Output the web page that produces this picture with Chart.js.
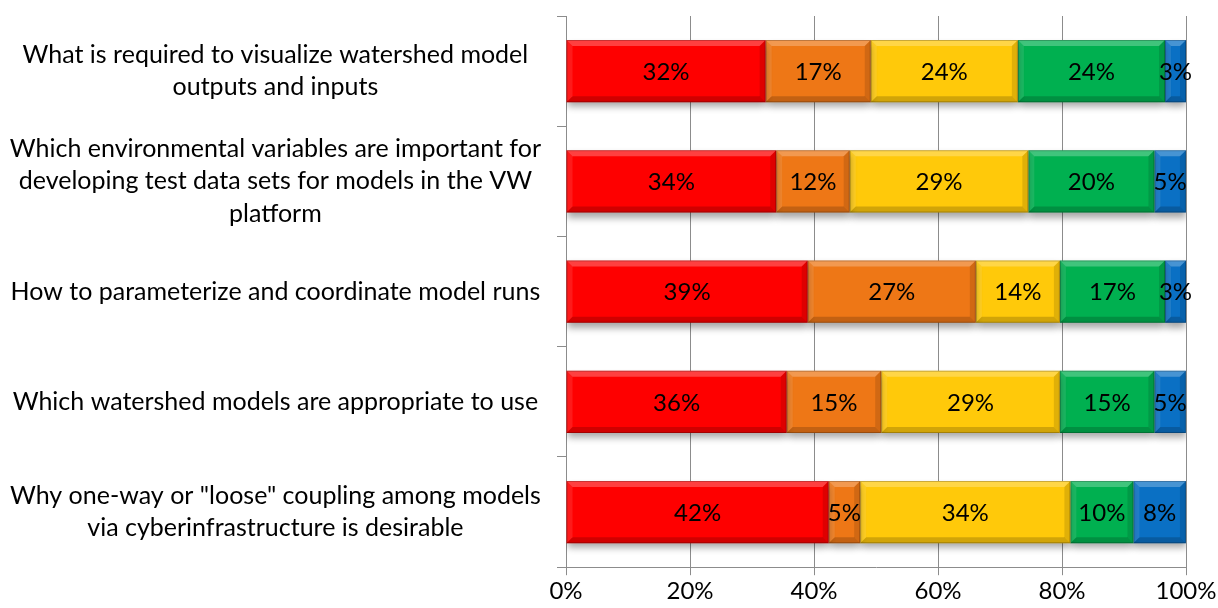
<!DOCTYPE html>
<html>
<head>
<meta charset="utf-8">
<script src="https://cdn.jsdelivr.net/npm/chart.js@4.4.1/dist/chart.umd.min.js"></script>
<style>
  html, body { margin: 0; padding: 0; background: #ffffff; }
  #wrap { width: 1218px; height: 608px; }
</style>
</head>
<body>
<div id="wrap"><canvas id="chart" width="1218" height="608"></canvas></div>
<script>
const categories = [
  ["What is required to visualize watershed model", "outputs and inputs"],
  ["Which environmental variables are important for", "developing test data sets for models in the VW", "platform"],
  ["How to parameterize and coordinate model runs"],
  ["Which watershed models are appropriate to use"],
  ["Why one-way or \"loose\" coupling among models", "via cyberinfrastructure is desirable"]
];

// percent of responses per answer level
const redValues    = [32.20, 33.90, 38.98, 35.59, 42.37];
const orangeValues = [16.95, 11.86, 27.12, 15.25, 5.08];
const yellowValues = [23.73, 28.81, 13.56, 28.81, 33.90];
const greenValues  = [23.73, 20.34, 16.95, 15.25, 10.17];
const blueValues   = [3.39, 5.08, 3.39, 5.08, 8.47];

const xTicks = [0, 20, 40, 60, 80, 100];

const seriesColors = ["#fe0000", "#ee7716", "#ffc90a", "#00b050", "#0a70c4"];
const FONT = "Lato, 'Open Sans', sans-serif";

const shadowPlugin = {
  id: "barShadow",
  beforeDatasetDraw(chart) {
    const ctx = chart.ctx;
    ctx.save();
    ctx.shadowColor = "rgba(0,0,0,0.35)";
    ctx.shadowBlur = 7;
    ctx.shadowOffsetY = 5;
  },
  afterDatasetDraw(chart) {
    chart.ctx.restore();
  }
};

const bevelPlugin = {
  id: "bevel",
  afterDatasetsDraw(chart) {
    const ctx = chart.ctx;
    const b = 6;
    chart.data.datasets.forEach((ds, i) => {
      const meta = chart.getDatasetMeta(i);
      meta.data.forEach((bar) => {
        const p = bar.getProps(["x", "y", "base", "height"], true);
        const left = Math.min(p.x, p.base);
        const right = Math.max(p.x, p.base);
        const top = p.y - p.height / 2;
        const bottom = p.y + p.height / 2;
        const w = right - left;
        const bb = Math.min(b, w / 2);
        ctx.save();
        // top
        ctx.fillStyle = "rgba(255,255,255,0.25)";
        ctx.beginPath();
        ctx.moveTo(left, top); ctx.lineTo(right, top);
        ctx.lineTo(right - bb, top + b); ctx.lineTo(left + bb, top + b);
        ctx.closePath(); ctx.fill();
        // left
        ctx.fillStyle = "rgba(255,255,255,0.10)";
        ctx.beginPath();
        ctx.moveTo(left, top); ctx.lineTo(left + bb, top + b);
        ctx.lineTo(left + bb, bottom - b); ctx.lineTo(left, bottom);
        ctx.closePath(); ctx.fill();
        // bottom
        ctx.fillStyle = "rgba(0,0,0,0.18)";
        ctx.beginPath();
        ctx.moveTo(left, bottom); ctx.lineTo(right, bottom);
        ctx.lineTo(right - bb, bottom - b); ctx.lineTo(left + bb, bottom - b);
        ctx.closePath(); ctx.fill();
        // right
        ctx.fillStyle = "rgba(0,0,0,0.12)";
        ctx.beginPath();
        ctx.moveTo(right, top); ctx.lineTo(right - bb, top + b);
        ctx.lineTo(right - bb, bottom - b); ctx.lineTo(right, bottom);
        ctx.closePath(); ctx.fill();
        ctx.strokeStyle = "rgba(0,0,0,0.22)";
        ctx.lineWidth = 1;
        ctx.strokeRect(left + 0.5, top + 0.5, w - 1, p.height - 1);
        ctx.restore();
      });
    });
  }
};

const labelPlugin = {
  id: "segmentLabels",
  afterDatasetsDraw(chart) {
    const ctx = chart.ctx;
    ctx.save();
    ctx.font = "24px " + FONT;
    ctx.fillStyle = "#000000";
    ctx.textAlign = "center";
    ctx.textBaseline = "middle";
    chart.data.datasets.forEach((ds, i) => {
      const meta = chart.getDatasetMeta(i);
      meta.data.forEach((bar, j) => {
        const p = bar.getProps(["x", "y", "base"], true);
        ctx.fillText(Math.round(ds.data[j]) + "%", (p.x + p.base) / 2, p.y + 1);
      });
    });
    ctx.restore();
  }
};

const seriesValues = [redValues, orangeValues, yellowValues, greenValues, blueValues];

new Chart(document.getElementById("chart"), {
  type: "bar",
  data: {
    labels: categories,
    datasets: seriesValues.map((values, i) => ({
      label: "Series " + (i + 1),
      data: values,
      backgroundColor: seriesColors[i],
      borderWidth: 0,
      categoryPercentage: 1,
      barPercentage: 0.565
    }))
  },
  options: {
    indexAxis: "y",
    responsive: false,
    animation: false,
    layout: { padding: { top: 16, right: 32, left: 0, bottom: 0 } },
    plugins: {
      legend: { display: false },
      tooltip: { enabled: false }
    },
    scales: {
      x: {
        stacked: true,
        min: 0,
        max: 100,
        afterBuildTicks: (scale) => {
          scale.ticks = xTicks.map((v) => ({ value: v }));
        },
        afterFit: (scale) => {
          scale.paddingRight = 0;
          scale.paddingLeft = 0;
        },
        ticks: {
          color: "#000000",
          font: { family: FONT, size: 24 },
          padding: 2,
          callback: (value) => value + "%"
        },
        grid: {
          color: "#8c8c8c",
          lineWidth: 1,
          tickLength: 8
        },
        border: { color: "#8c8c8c" }
      },
      y: {
        stacked: true,
        afterFit: (scale) => {
          scale.width = 566;
          scale.paddingTop = 0;
          scale.paddingBottom = 0;
        },
        ticks: {
          color: "#000000",
          font: { family: FONT, size: 25, lineHeight: 1.3 },
          crossAlign: "center",
          padding: 16
        },
        grid: {
          offset: true,
          drawOnChartArea: false,
          color: "#8c8c8c",
          tickLength: 9
        },
        border: { color: "#8c8c8c" }
      }
    }
  },
  plugins: [shadowPlugin, bevelPlugin, labelPlugin]
});
</script>
</body>
</html>
